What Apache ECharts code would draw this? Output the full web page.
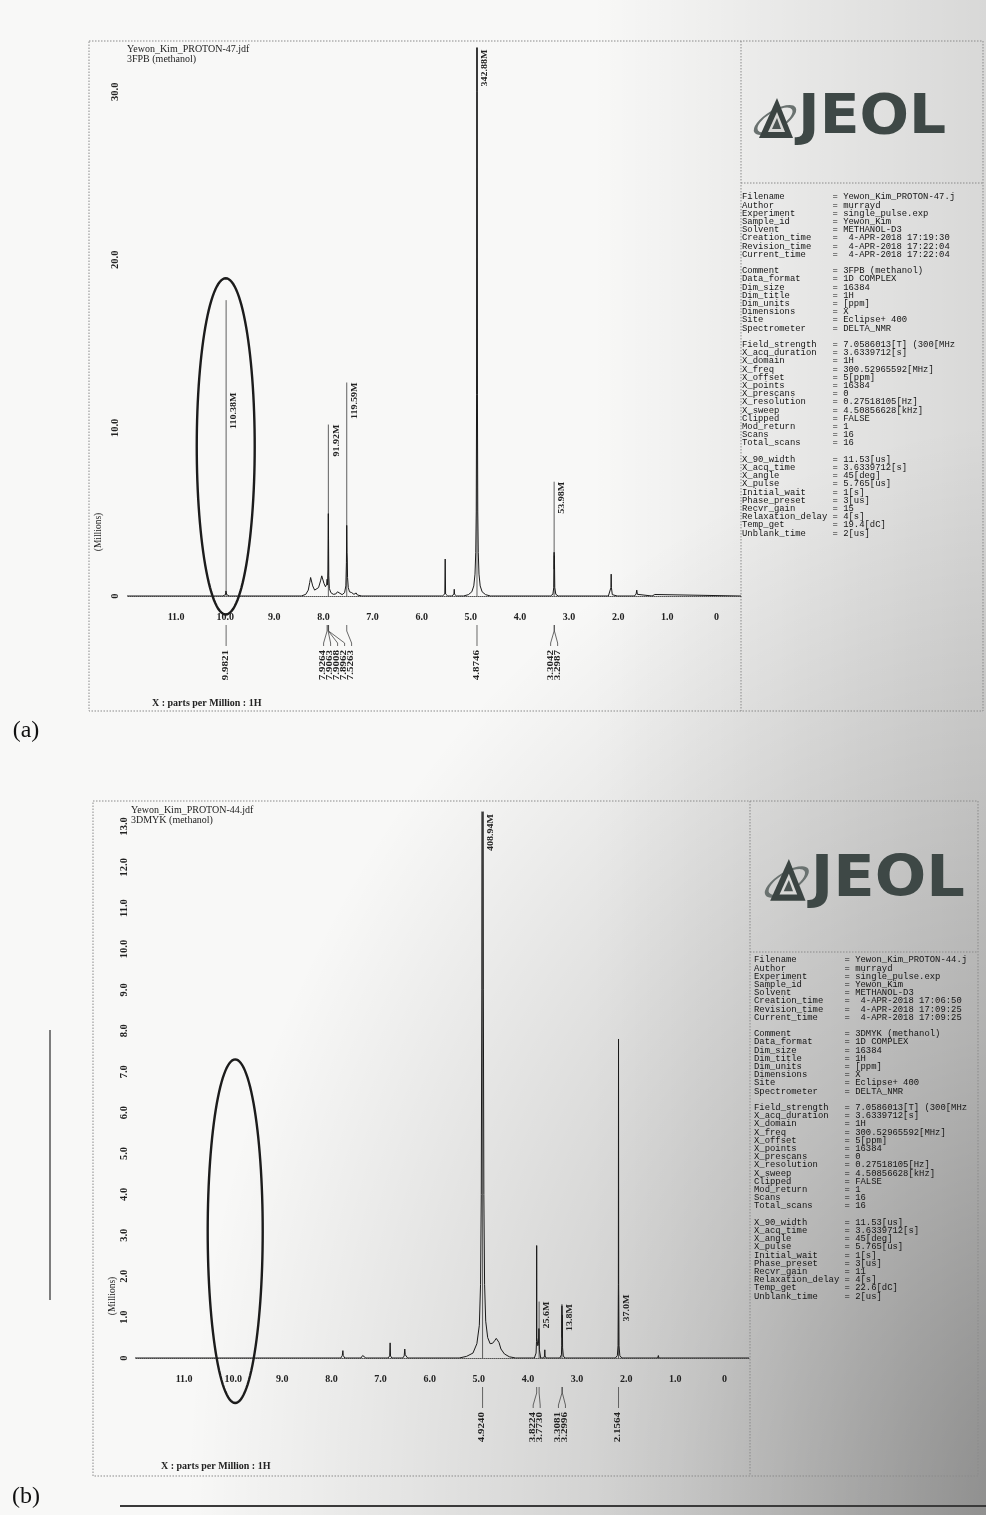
<!DOCTYPE html>
<html><head><meta charset="utf-8">
<script src="https://cdn.jsdelivr.net/npm/echarts@6/dist/echarts.min.js"></script>
<style>
html,body{margin:0;padding:0;}
body{width:986px;height:1515px;overflow:hidden;background:#f8f8f7;position:relative;}
#bg{position:absolute;left:0;top:0;width:986px;height:1515px;
 background:
  radial-gradient(ellipse 900px 1100px at 110% 100%, rgba(0,0,0,0.38) 0%, rgba(0,0,0,0.18) 45%, rgba(0,0,0,0) 100%),
  linear-gradient(to right, rgba(0,0,0,0) 60%, rgba(0,0,0,0.13) 100%);}
#chart{position:absolute;left:0;top:0;width:986px;height:1515px;}
</style></head><body><div id="bg"></div><div id="chart"></div>
<script>
// ================= DATA =================
const xTickValues = [0,1,2,3,4,5,6,7,8,9,10,11];
const yTicksA = [0,10,20,30];
const yTicksB = [0,1,2,3,4,5,6,7,8,9,10,11,12,13];

// spectrum (a): [ppm, intensity in Millions]
const spectrumA = [
 [12.0,0],[10.05,0],[9.995,0.08],[9.986,0.3],[9.982,0.38],[9.978,0.3],[9.969,0.08],[9.92,0],
 [8.45,0],[8.36,0.1],[8.31,0.35],[8.28,0.8],[8.262,1.1],[8.245,1.0],[8.22,0.6],[8.18,0.35],[8.14,0.33],[8.10,0.5],[8.06,0.9],[8.035,1.2],[8.015,1.15],[7.99,0.75],[7.96,0.55],[7.935,0.7],[7.926,1.0],[7.918,0.65],[7.909,1.6],[7.904,3.8],[7.901,4.9],[7.897,3.4],[7.892,1.2],[7.88,0.45],[7.85,0.2],[7.80,0.1],[7.75,0.12],[7.715,0.25],[7.69,0.15],[7.62,0.08],[7.57,0.2],[7.545,0.6],[7.533,2.0],[7.527,4.2],[7.521,2.6],[7.516,2.2],[7.51,1.1],[7.495,0.5],[7.47,0.25],[7.445,0.35],[7.425,0.2],[7.38,0.1],[7.335,0.18],[7.31,0.06],[7.22,0],
 [5.58,0],[5.53,0.12],[5.522,2.2],[5.514,0.12],[5.47,0],
 [5.39,0],[5.345,0.1],[5.338,0.4],[5.331,0.1],[5.29,0],
 [5.15,0],[5.05,0.08],[4.98,0.25],[4.94,0.6],[4.915,1.3],[4.90,2.6],[4.89,5],[4.883,12],[4.878,30],[4.8746,60],[4.871,30],[4.866,12],[4.859,5],[4.849,2.6],[4.834,1.3],[4.81,0.6],[4.77,0.25],[4.70,0.08],[4.60,0],
 [3.38,0],[3.33,0.1],[3.312,0.5],[3.3042,2.6],[3.3015,1.6],[3.2987,2.4],[3.291,0.5],[3.27,0.1],[3.22,0],
 [2.20,0],[2.16,0.1],[2.148,0.5],[2.143,1.3],[2.138,0.5],[2.12,0.08],[2.08,0],
 [2.02,0],[1.995,0.1],[1.985,0],
 [1.67,0],[1.635,0.12],[1.622,0.35],[1.61,0.1],[1.58,0],
 [1.31,0],[1.285,0.1],[1.27,0.06],[1.255,0.09],[1.23,0],
 [-0.5,0]
];
// spectrum (b)
const spectrumB = [
 [12.0,0],[8.03,0],[8.0,0.04],[7.97,0],
 [7.81,0],[7.78,0.06],[7.768,0.18],[7.76,0.06],[7.73,0],
 [7.40,0],[7.365,0.06],[7.345,0.04],[7.33,0.05],[7.30,0],
 [6.85,0],[6.815,0.05],[6.806,0.37],[6.798,0.05],[6.77,0],
 [6.55,0],[6.52,0.05],[6.508,0.22],[6.498,0.08],[6.49,0.12],[6.48,0.04],[6.45,0],
 [5.40,0],[5.25,0.04],[5.12,0.12],[5.04,0.35],[4.99,0.8],[4.965,1.8],[4.95,4],[4.94,9],[4.932,20],[4.924,45],[4.916,20],[4.908,9],[4.898,4],[4.883,1.8],[4.86,0.9],[4.82,0.5],[4.77,0.35],[4.72,0.36],[4.68,0.42],[4.645,0.48],[4.62,0.47],[4.59,0.38],[4.55,0.22],[4.48,0.1],[4.38,0.03],[4.25,0],
 [3.87,0],[3.835,0.12],[3.826,0.4],[3.8224,2.75],[3.819,0.5],[3.80,0.3],[3.785,0.35],[3.777,0.72],[3.773,0.7],[3.767,0.2],[3.74,0],
 [3.68,0],[3.662,0.05],[3.657,0.2],[3.652,0.05],[3.63,0],
 [3.35,0],[3.318,0.08],[3.312,0.3],[3.3081,1.28],[3.304,0.5],[3.2996,1.05],[3.295,0.25],[3.28,0.05],[3.25,0],
 [2.22,0],[2.18,0.06],[2.166,0.3],[2.1595,1.8],[2.1564,7.8],[2.153,1.8],[2.146,0.3],[2.13,0.06],[2.09,0],
 [1.36,0],[1.345,0.06],[1.335,0],
 [-0.5,0]
];

// peak height labels
const heightTextA = ['110.38M','91.92M','119.59M','342.88M','53.98M'];
const heightPpmA  = [9.9821, 7.9008, 7.5263, 4.8746, 3.3042];
const heightTextB = ['408.94M','25.6M','13.8M','37.0M'];
const heightPpmB  = [4.9240, 3.7730, 3.3081, 2.1564];

// peak pick labels (ppm)
const pickA = [9.9821, 7.9264, 7.9063, 7.9008, 7.8962, 7.5263, 4.8746, 3.3042, 3.2987];
const pickB = [4.9240, 3.8224, 3.7730, 3.3081, 3.2996, 2.1564];

// parameter tables
const infoKeys = ['Filename','Author','Experiment','Sample_id','Solvent','Creation_time','Revision_time','Current_time','',
 'Comment','Data_format','Dim_size','Dim_title','Dim_units','Dimensions','Site','Spectrometer','',
 'Field_strength','X_acq_duration','X_domain','X_freq','X_offset','X_points','X_prescans','X_resolution','X_sweep','Clipped','Mod_return','Scans','Total_scans','',
 'X_90_width','X_acq_time','X_angle','X_pulse','Initial_wait','Phase_preset','Recvr_gain','Relaxation_delay','Temp_get','Unblank_time'];
const infoValsA = ['Yewon_Kim_PROTON-47.j','murrayd','single_pulse.exp','Yewon_Kim','METHANOL-D3',' 4-APR-2018 17:19:30',' 4-APR-2018 17:22:04',' 4-APR-2018 17:22:04','',
 '3FPB (methanol)','1D COMPLEX','16384','1H','[ppm]','X','Eclipse+ 400','DELTA_NMR','',
 '7.0586013[T] (300[MHz','3.6339712[s]','1H','300.52965592[MHz]','5[ppm]','16384','0','0.27518105[Hz]','4.50856628[kHz]','FALSE','1','16','16','',
 '11.53[us]','3.6339712[s]','45[deg]','5.765[us]','1[s]','3[us]','15','4[s]','19.4[dC]','2[us]'];
const infoValsB = ['Yewon_Kim_PROTON-44.j','murrayd','single_pulse.exp','Yewon_Kim','METHANOL-D3',' 4-APR-2018 17:06:50',' 4-APR-2018 17:09:25',' 4-APR-2018 17:09:25','',
 '3DMYK (methanol)','1D COMPLEX','16384','1H','[ppm]','X','Eclipse+ 400','DELTA_NMR','',
 '7.0586013[T] (300[MHz','3.6339712[s]','1H','300.52965592[MHz]','5[ppm]','16384','0','0.27518105[Hz]','4.50856628[kHz]','FALSE','1','16','16','',
 '11.53[us]','3.6339712[s]','45[deg]','5.765[us]','1[s]','3[us]','11','4[s]','22.6[dC]','2[us]'];

const titleA = ['Yewon_Kim_PROTON-47.jdf','3FPB (methanol)'];
const titleB = ['Yewon_Kim_PROTON-44.jdf','3DMYK (methanol)'];
const xName = 'X : parts per Million : 1H';
const yName = '(Millions)';

// ================= LAYOUT / STYLE =================
const heightLayoutA = [ {lineTop:17.6,textTop:12.1}, {lineTop:10.2,textTop:10.2}, {lineTop:12.7,textTop:12.7}, {lineTop:32.6,textTop:32.5}, {lineTop:6.8,textTop:6.8} ];
const heightLayoutB = [ {lineTop:13.35,textTop:13.3}, {lineTop:1.38,textTop:1.38}, {lineTop:1.32,textTop:1.32}, {lineTop:1.55,textTop:1.55} ];
const ellipseA = {ppm:9.99, val:8.9, rppm:0.59, rval:10.0};
const ellipseB = {ppm:9.96, val:3.1, rppm:0.56, rval:4.2};

const INK = '#222';
const SERIF = '"Liberation Serif","Times New Roman",serif';
const MONO = '"Liberation Mono","DejaVu Sans Mono",monospace';
const GAP = 7;
const fmt = v => v === 0 ? '0' : v.toFixed(1);

function heightRender(texts, ppms, layout){
  return function(params, api){
    const i = params.dataIndex, L = layout[i];
    const b = api.coord([ppms[i], 0]);
    const t = api.coord([ppms[i], L.lineTop]);
    const tt = api.coord([ppms[i], L.textTop]);
    return {type:'group', children:[
      {type:'line', shape:{x1:b[0],y1:b[1],x2:t[0],y2:t[1]}, style:{stroke:'#3a3a3a',lineWidth:0.8}},
      {type:'text', x:b[0]+4, y:tt[1], rotation:Math.PI/2, scaleY:0.82,
       style:{text:texts[i], font:'bold 10px '+SERIF, fill:INK, align:'right', verticalAlign:'top', textAlign:'right', textVerticalAlign:'top'}}
    ]};
  };
}
function pickRender(ppms){
  return function(params, api){
    const xs = ppms.map(p => api.coord([p,0])[0]);
    const by = api.coord([ppms[0],0])[1];
    const order = xs.map((x,i)=>i).sort((a,b)=>xs[a]-xs[b]);
    const pos = new Array(xs.length); const clusters=[]; let cur=null;
    order.forEach((i,k)=>{
      if(k===0){pos[i]=xs[i];cur=[i];clusters.push(cur);}
      else{const pv=order[k-1]; if(xs[i]<pos[pv]+GAP){pos[i]=pos[pv]+GAP;cur.push(i);} else {pos[i]=xs[i];cur=[i];clusters.push(cur);}}
    });
    clusters.forEach(c=>{ if(c.length>1) c.forEach(i=>pos[i]-=GAP/2); });
    const i = params.dataIndex, x0 = xs[i], x1 = pos[i];
    return {type:'group', children:[
      {type:'polyline', shape:{points:[[x0,by+29],[x0,by+35],[x1,by+47],[x1,by+50]]}, style:{stroke:'#444',lineWidth:0.8,fill:'none'}},
      {type:'text', x:x1, y:by+54, rotation:Math.PI/2, scaleY:0.66,
       style:{text:ppms[i].toFixed(4), font:'bold 11px '+SERIF, fill:INK, align:'right', verticalAlign:'middle', textAlign:'right', textVerticalAlign:'middle'}}
    ]};
  };
}
function ellipseRender(e){
  return function(params, api){
    const c = api.coord([e.ppm, e.val]);
    const s = api.size([e.rppm, e.rval]);
    const rx = Math.abs(s[0]), ry = Math.abs(s[1]);
    const pts=[]; for(let k=0;k<=120;k++){const a=k/120*2*Math.PI; pts.push([c[0]+rx*Math.cos(a), c[1]+ry*Math.sin(a)]);}
    return {type:'polygon', shape:{points:pts}, style:{fill:'none', stroke:'#1c1c1c', lineWidth:2.4}};
  };
}

function xAxisDef(gi){
  return {type:'value', gridIndex:gi, inverse:true, min:-0.5, max:12, offset:10,
    splitLine:{show:false}, axisTick:{show:false},
    axisLine:{show:true, lineStyle:{type:'dotted', color:'#555', width:1}},
    axisLabel:{customValues:xTickValues, formatter:fmt, margin:6, color:INK, fontSize:10, fontWeight:'bold', fontFamily:SERIF}};
}
function yAxisDef(gi, max, ticks, margin){
  return {type:'value', gridIndex:gi, min:0, max:max,
    splitLine:{show:false}, axisTick:{show:false}, axisLine:{show:false},
    axisLabel:{customValues:ticks, formatter:fmt, rotate:90, margin:margin, color:INK, fontSize:10.5, fontWeight:'bold', fontFamily:SERIF}};
}

function infoText(vals){
  return infoKeys.map((k,i)=> k==='' ? '' : (k.padEnd(17,' ') + '= ' + vals[i])).join('\n');
}
function dotted(shape, type){ return {type:type||'line', shape:shape, silent:true, style:{stroke:'#8a8a8a', lineWidth:1, lineDash:[1.5,1.5], fill:'none'}}; }
function txt(x,y,text,font,extra){ return Object.assign({type:'text', x:x, y:y, silent:true, style:{text:text, font:font, fill:INK, textAlign:'left', textVerticalAlign:'top'}}, extra||{}); }
function logo(x,y,s){
  return {type:'group', x:x, y:y, scaleX:s, scaleY:s, silent:true, children:[
    {type:'circle', x:20, y:24, rotation:0.55, scaleX:1.05, scaleY:0.42, shape:{cx:0,cy:0,r:21}, style:{fill:'none', stroke:'#6a7270', lineWidth:4}},
    {type:'polygon', shape:{points:[[4,42],[22,2],[38,42]]}, style:{fill:'#3b4442'}},
    {type:'polygon', shape:{points:[[13,36],[22,16],[30,36]]}, style:{fill:'#d8d8d6'}},
    {type:'polygon', shape:{points:[[17,33],[22,22],[26,33]]}, style:{fill:'#4b5452'}},
    {type:'text', x:43, y:23, scaleX:1.06, style:{text:'JEOL', font:'bold 55px "DejaVu Sans"', fill:'#3e4846', textAlign:'left', textVerticalAlign:'middle'}}
  ]};
}

const chart = echarts.init(document.getElementById('chart'), null, {renderer:'canvas'});
const option = {
  animation:false,
  backgroundColor:'transparent',
  grid:[
    {left:127, right:245, top:48, bottom:919},
    {left:135, right:237, top:812, bottom:157}
  ],
  xAxis:[xAxisDef(0), xAxisDef(1)],
  yAxis:[yAxisDef(0, 32.6, yTicksA, 6), yAxisDef(1, 13.35, yTicksB, 5)],
  series:[
    {type:'line', xAxisIndex:0, yAxisIndex:0, data:spectrumA, showSymbol:false, symbol:'none', lineStyle:{color:'#1a1a1a', width:1}, z:3},
    {type:'line', xAxisIndex:1, yAxisIndex:1, data:spectrumB, showSymbol:false, symbol:'none', lineStyle:{color:'#1a1a1a', width:1}, z:3},
    {type:'custom', xAxisIndex:0, yAxisIndex:0, clip:false, data:heightPpmA.map(p=>[p,0]), renderItem:heightRender(heightTextA, heightPpmA, heightLayoutA), z:2},
    {type:'custom', xAxisIndex:1, yAxisIndex:1, clip:false, data:heightPpmB.map(p=>[p,0]), renderItem:heightRender(heightTextB, heightPpmB, heightLayoutB), z:2},
    {type:'custom', xAxisIndex:0, yAxisIndex:0, clip:false, data:pickA.map(p=>[p,0]), renderItem:pickRender(pickA), z:2},
    {type:'custom', xAxisIndex:1, yAxisIndex:1, clip:false, data:pickB.map(p=>[p,0]), renderItem:pickRender(pickB), z:2},
    {type:'custom', xAxisIndex:0, yAxisIndex:0, clip:false, data:[[ellipseA.ppm, ellipseA.val]], renderItem:ellipseRender(ellipseA), z:4},
    {type:'custom', xAxisIndex:1, yAxisIndex:1, clip:false, data:[[ellipseB.ppm, ellipseB.val]], renderItem:ellipseRender(ellipseB), z:4}
  ],
  graphic:{elements:[
    // frames (a)
    dotted({x:89,y:41,width:894,height:670},'rect'),
    dotted({x1:741,y1:41,x2:741,y2:711}),
    dotted({x1:741,y1:183,x2:983,y2:183}),
    // frames (b)
    dotted({x:93,y:801,width:885,height:675},'rect'),
    dotted({x1:750,y1:801,x2:750,y2:1476}),
    dotted({x1:750,y1:952,x2:978,y2:952}),
    // titles
    txt(127,44,titleA[0],'10px '+SERIF), txt(127,54,titleA[1],'10px '+SERIF),
    txt(131,805,titleB[0],'10px '+SERIF), txt(131,815,titleB[1],'10px '+SERIF),
    // x axis names
    txt(152,698,xName,'bold 10px '+SERIF), txt(161,1461,xName,'bold 10px '+SERIF),
    // y axis names
    {type:'text', x:98, y:532, rotation:Math.PI/2, silent:true, style:{text:yName, font:'9.5px '+SERIF, fill:INK, textAlign:'center', textVerticalAlign:'middle'}},
    {type:'text', x:112, y:1296, rotation:Math.PI/2, silent:true, style:{text:yName, font:'9.5px '+SERIF, fill:INK, textAlign:'center', textVerticalAlign:'middle'}},
    // panel letters
    {type:'text', x:26, y:731, silent:true, style:{text:'(a)', font:'24px '+SERIF, fill:'#111', textAlign:'center', textVerticalAlign:'middle'}},
    {type:'text', x:26, y:1497, silent:true, style:{text:'(b)', font:'24px '+SERIF, fill:'#111', textAlign:'center', textVerticalAlign:'middle'}},
    // logos
    logo(755,96,1.0),
    logo(766,857,1.04),
    // info tables
    {type:'text', x:742, y:193, silent:true, style:{text:infoText(infoValsA), font:'8.9px '+MONO, lineHeight:8.2, fill:'#141414', textAlign:'left', textVerticalAlign:'top'}},
    {type:'text', x:754, y:956, silent:true, style:{text:infoText(infoValsB), font:'8.9px '+MONO, lineHeight:8.2, fill:'#141414', textAlign:'left', textVerticalAlign:'top'}},
    // scan artefacts
    {type:'line', silent:true, shape:{x1:120,y1:1506,x2:986,y2:1506}, style:{stroke:'#3a3a3a', lineWidth:2}},
    {type:'line', silent:true, shape:{x1:50,y1:1030,x2:50,y2:1300}, style:{stroke:'#555', lineWidth:1.5}}
  ]}
};
chart.setOption(option);
</script></body></html>
